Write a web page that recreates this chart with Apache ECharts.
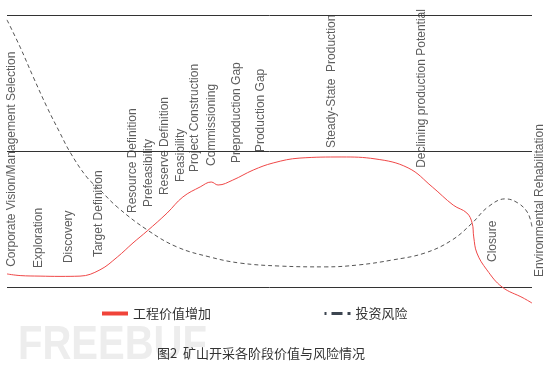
<!DOCTYPE html>
<html>
<head>
<meta charset="utf-8">
<script src="https://cdn.jsdelivr.net/npm/echarts@6/dist/echarts.min.js"></script>
<style>html,body{margin:0;padding:0;background:#fff}#c{width:555px;height:370px}</style>
</head>
<body>
<div id="c"></div>
<script>
// Value added curve (x: project timeline 0-100, y: relative level 0-100)
var valueX = [0, 2.5, 6.3, 10.1, 13.9, 17.7, 21.0, 24.0, 26.7, 30.5, 33.5, 36.8, 38.9, 40.2, 43.0, 46.9, 50.7, 55.8, 63.8, 70.1, 76.4, 81.0, 85.0, 87.6, 88.6, 88.9, 89.5, 91.4, 94.3, 98.3, 100];
var valueY = [4.8, 4.2, 4.0, 3.9, 4.0, 6.3, 11.0, 16.2, 20.6, 27.2, 33.1, 36.8, 38.6, 37.5, 39.3, 43.0, 45.6, 47.4, 47.8, 47.1, 43.8, 36.8, 30.1, 27.2, 23.5, 18.4, 12.5, 6.3, 0, -4.0, -5.9];
// Investment risk curve
var riskX = [0, 2.5, 5.0, 7.6, 10.1, 12.0, 15.2, 17.7, 21.0, 26.7, 32.4, 38.7, 44.4, 52.0, 60.6, 66.9, 73.3, 79.6, 84.8, 88.6, 91.6, 94.9, 97.3, 99.2, 100];
var riskY = [98.2, 88.2, 77.2, 66.2, 56.6, 49.6, 40.4, 35.7, 29.4, 21.0, 14.7, 11.0, 8.8, 7.7, 7.4, 8.1, 9.9, 12.5, 17.3, 23.5, 29.4, 32.4, 30.9, 27.2, 22.1];
// Stage labels: name, x, y (bottom of the vertical text)
var stageNames = ['Corporate Vision/Management Selection', 'Exploration', 'Discovery', 'Target Definition', 'Resource Definition', 'Prefeasibility', 'Reserve Definition', 'Feasibility', 'Project Construction', 'Commissioning', 'Preproduction Gap', 'Production Gap', 'Steady-State  Production', 'Declining production Potential', 'Closure', 'Environmental Rehabilitation'];
var stageX = [0.8, 6.1, 11.8, 17.5, 24.0, 27.0, 30.1, 33.0, 35.8, 38.9, 43.8, 48.4, 61.9, 79.0, 92.6, 101.5];
var stageY = [7.4, 7.0, 8.8, 11.0, 27.2, 29.4, 33.8, 38.6, 42.3, 44.5, 45.6, 49.6, 51.1, 43.8, 9.2, 3.7];
var seriesNames = ['工程价值增加', '投资风险'];
var caption = '图2  矿山开采各阶段价值与风险情况';

function zip(xs, ys) { return xs.map(function (x, i) { return [x, ys[i]]; }); }
var stageData = stageNames.map(function (n, i) { return { name: n, value: [stageX[i], stageY[i]] }; });

var chart = echarts.init(document.getElementById('c'));
chart.setOption({
  animation: false,
  backgroundColor: '#fff',
  title: {
    text: caption, left: 152, top: 342,
    textStyle: { fontSize: 13, fontWeight: 'normal', color: '#333', fontFamily: 'Noto Sans CJK SC' }
  },
  graphic: [{
    type: 'text', left: 18, top: 322, z: -10, scaleX: 1.0, scaleY: 1.2,
    style: { text: 'FREEBUF', fill: '#ededed', font: 'bold 40px "Liberation Sans"' }
  }],
  legend: {
    left: 95, top: 302, itemWidth: 26, itemHeight: 14, itemGap: 112,
    textStyle: { fontSize: 13, color: '#333', fontFamily: 'Noto Sans CJK SC' },
    data: [
      { name: seriesNames[0], itemStyle: { color: 'rgba(0,0,0,0)', borderWidth: 0 },
        lineStyle: { width: 4, color: '#f0443a', type: 'solid' } },
      { name: seriesNames[1], itemStyle: { color: 'rgba(0,0,0,0)', borderWidth: 0 },
        lineStyle: { width: 3, color: '#3c4550', type: [11, 5], dashOffset: 9 } }
    ]
  },
  grid: { left: 7, width: 525, top: 15, bottom: 83 },
  xAxis: { type: 'value', min: 0, max: 100, show: false },
  yAxis: {
    type: 'value', min: 0, max: 100, interval: 50,
    axisLine: { show: false }, axisTick: { show: false }, axisLabel: { show: false },
    splitLine: { show: true, lineStyle: { color: '#333', width: 1 } }
  },
  series: [
    {
      name: seriesNames[0], type: 'line', data: zip(valueX, valueY), smooth: 0.4,
      symbol: 'none', clip: false,
      lineStyle: { color: '#f04848', width: 1 }, itemStyle: { color: '#f0443a' }
    },
    {
      name: seriesNames[1], type: 'line', data: zip(riskX, riskY), smooth: 0.4,
      symbol: 'none', clip: false,
      lineStyle: { color: '#555', width: 1, type: [4, 3] }, itemStyle: { color: '#3c4550' }
    },
    {
      name: 'stages', type: 'scatter', data: stageData, symbolSize: 0, clip: false, silent: true,
      label: {
        show: true, formatter: '{b}', rotate: 90, position: [0, 0],
        align: 'left', verticalAlign: 'middle',
        fontSize: 12, color: '#333', fontFamily: 'Liberation Sans'
      }
    }
  ]
});
</script>
</body>
</html>
